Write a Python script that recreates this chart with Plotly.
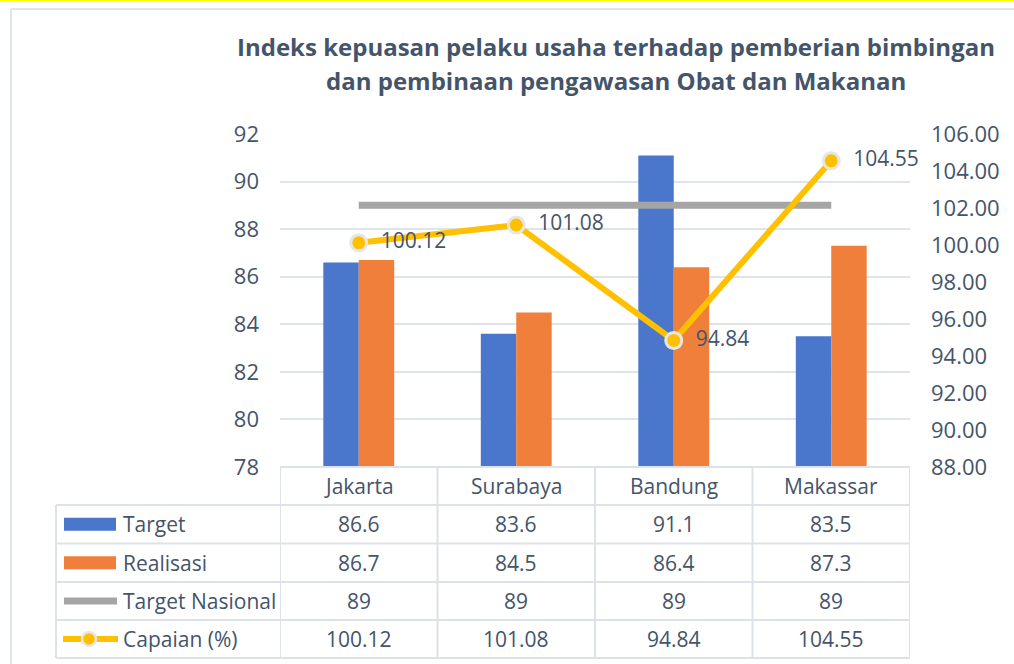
import plotly.graph_objects as go

categories = ["Jakarta", "Surabaya", "Bandung", "Makassar"]
target = [86.6, 83.6, 91.1, 83.5]
realisasi = [86.7, 84.5, 86.4, 87.3]
target_nasional = [89, 89, 89, 89]
capaian = [100.12, 101.08, 94.84, 104.55]
row_labels = ["Target", "Realisasi", "Target Nasional", "Capaian (%)"]
title_lines = ["Indeks kepuasan pelaku usaha terhadap pemberian bimbingan",
               "dan pembinaan pengawasan Obat dan Makanan"]

W, H = 1014, 664
FONT = "Open Sans"
TXT = "#44546a"
GRID = "#dfe3ea"
BLUE = "#4a76cb"
ORANGE = "#ef7f3a"
GRAY = "#a5a5a5"
YELLOW = "#ffc000"
TS = 21


def px(x):
    return x / W


def py(y):
    return 1 - y / H


fig = go.Figure()
fig.add_trace(go.Bar(x=categories, y=target, name="Target", marker_color=BLUE,
                     marker_line_width=0))
fig.add_trace(go.Bar(x=categories, y=realisasi, name="Realisasi", marker_color=ORANGE,
                     marker_line_width=0))
fig.add_trace(go.Scatter(x=categories, y=target_nasional, name="Target Nasional",
                         mode="lines", line=dict(color=GRAY, width=7)))
fig.add_trace(go.Scatter(x=categories, y=capaian, name="Capaian (%)", yaxis="y2",
                         mode="lines+markers+text", line=dict(color=YELLOW, width=6),
                         marker=dict(size=16, color=YELLOW, line=dict(color="#e6e6e6", width=3)),
                         texttemplate="  %{y:.2f}", textposition="middle right",
                         textfont=dict(family=FONT, size=TS, color=TXT),
                         cliponaxis=False))

plot_l, plot_r, plot_t, plot_b = 280, 910, 134, 467

fig.update_layout(
    width=W, height=H, autosize=False,
    margin=dict(l=0, r=0, t=0, b=0, pad=0, autoexpand=False),
    paper_bgcolor="white", plot_bgcolor="white",
    showlegend=False,
    barmode="group", bargap=0.55, bargroupgap=0,
    font=dict(family=FONT, color=TXT, size=TS),
    xaxis=dict(domain=[px(plot_l), px(plot_r)], type="category", range=[-0.5, 3.5],
               showticklabels=False, showgrid=False, zeroline=False, showline=False,
               ticks="", automargin=False),
    yaxis=dict(domain=[py(plot_b), py(plot_t)], range=[78, 92], dtick=2,
               gridcolor=GRID, gridwidth=2, zeroline=False, showline=False, ticks="",
               ticklabelstandoff=20, tickfont=dict(size=22, color=TXT), automargin=False),
    yaxis2=dict(overlaying="y", side="right", range=[88, 106], dtick=2, tickformat=".2f",
                showgrid=False, zeroline=False, showline=False, ticks="",
                ticklabelstandoff=20, tickfont=dict(size=22, color=TXT), automargin=False),
)

shapes = []
ann = []

# outer frame
shapes.append(dict(type="line", xref="paper", yref="paper", x0=0, x1=1, y0=py(0.8), y1=py(0.8),
                   line=dict(color="#ffff00", width=2)))
shapes.append(dict(type="line", xref="paper", yref="paper", x0=px(11), x1=1, y0=py(9), y1=py(9),
                   line=dict(color="#dfe3ea", width=2)))
shapes.append(dict(type="line", xref="paper", yref="paper", x0=px(11), x1=px(11), y0=py(9), y1=0,
                   line=dict(color="#dfe3ea", width=2)))

# title
ann.append(dict(text="<b>" + title_lines[0] + "</b>", x=px(616), y=py(47), xref="paper", yref="paper",
                xanchor="center", yanchor="middle", showarrow=False,
                font=dict(family=FONT, size=24, color=TXT)))
ann.append(dict(text="<b>" + title_lines[1] + "</b>", x=px(616), y=py(81), xref="paper", yref="paper",
                xanchor="center", yanchor="middle", showarrow=False,
                font=dict(family=FONT, size=24, color=TXT)))

# data table
TL = "#dde1e8"
tab_left = 56
row_edges = [467, 505, 543.5, 582, 620, 658]
shapes.append(dict(type="line", xref="paper", yref="paper", x0=px(plot_l), x1=px(plot_r),
                   y0=py(row_edges[0]), y1=py(row_edges[0]), line=dict(color=TL, width=2)))
for ye in row_edges[1:]:
    shapes.append(dict(type="line", xref="paper", yref="paper", x0=px(tab_left), x1=px(plot_r),
                       y0=py(ye), y1=py(ye), line=dict(color=TL, width=2)))
shapes.append(dict(type="line", xref="paper", yref="paper", x0=px(tab_left), x1=px(tab_left),
                   y0=py(row_edges[1]), y1=py(row_edges[-1]), line=dict(color=TL, width=2)))
for i in range(len(categories) + 1):
    shapes.append(dict(type="line", xref="x", yref="paper", x0=i - 0.5, x1=i - 0.5,
                       y0=py(row_edges[0]), y1=py(row_edges[-1]), line=dict(color=TL, width=2)))

hy = (row_edges[0] + row_edges[1]) / 2
for c in categories:
    ann.append(dict(text=c, x=c, xref="x", y=py(hy), yref="paper", xanchor="center",
                    yanchor="middle", showarrow=False, font=dict(family=FONT, size=TS, color=TXT)))

series_vals = [
    [f"{v:g}" for v in target],
    [f"{v:g}" for v in realisasi],
    [f"{v:g}" for v in target_nasional],
    [f"{v:.2f}" for v in capaian],
]
for r, (lab, vals) in enumerate(zip(row_labels, series_vals)):
    yc = (row_edges[r + 1] + row_edges[r + 2]) / 2
    ann.append(dict(text=lab, x=px(121), xref="paper", y=py(yc), yref="paper", xanchor="left",
                    yanchor="middle", showarrow=False, font=dict(family=FONT, size=TS, color=TXT)))
    for c, v in zip(categories, vals):
        ann.append(dict(text=v, x=c, xref="x", y=py(yc), yref="paper", xanchor="center",
                        yanchor="middle", showarrow=False, font=dict(family=FONT, size=TS, color=TXT)))


def row_mid(r):
    return (row_edges[r + 1] + row_edges[r + 2]) / 2


for r, col in [(0, BLUE), (1, ORANGE)]:
    m = row_mid(r)
    shapes.append(dict(type="rect", xref="paper", yref="paper", x0=px(64), x1=px(116),
                       y0=py(m - 6.5), y1=py(m + 6.5), fillcolor=col, line=dict(width=0)))
m = row_mid(2)
shapes.append(dict(type="line", xref="paper", yref="paper", x0=px(64), x1=px(117),
                   y0=py(m), y1=py(m), line=dict(color=GRAY, width=7)))
m = row_mid(3)
shapes.append(dict(type="line", xref="paper", yref="paper", x0=px(63), x1=px(118),
                   y0=py(m), y1=py(m), line=dict(color=YELLOW, width=6)))
shapes.append(dict(type="circle", xref="paper", yref="paper", x0=px(82), x1=px(96),
                   y0=py(m + 7), y1=py(m - 7), fillcolor=YELLOW,
                   line=dict(color="#e6e6e6", width=2.5)))

fig.update_layout(shapes=shapes, annotations=ann)

fig.write_html("out.html", config={"displayModeBar": False},
               post_script="document.body.style.margin='0';document.body.style.overflow='hidden';")
